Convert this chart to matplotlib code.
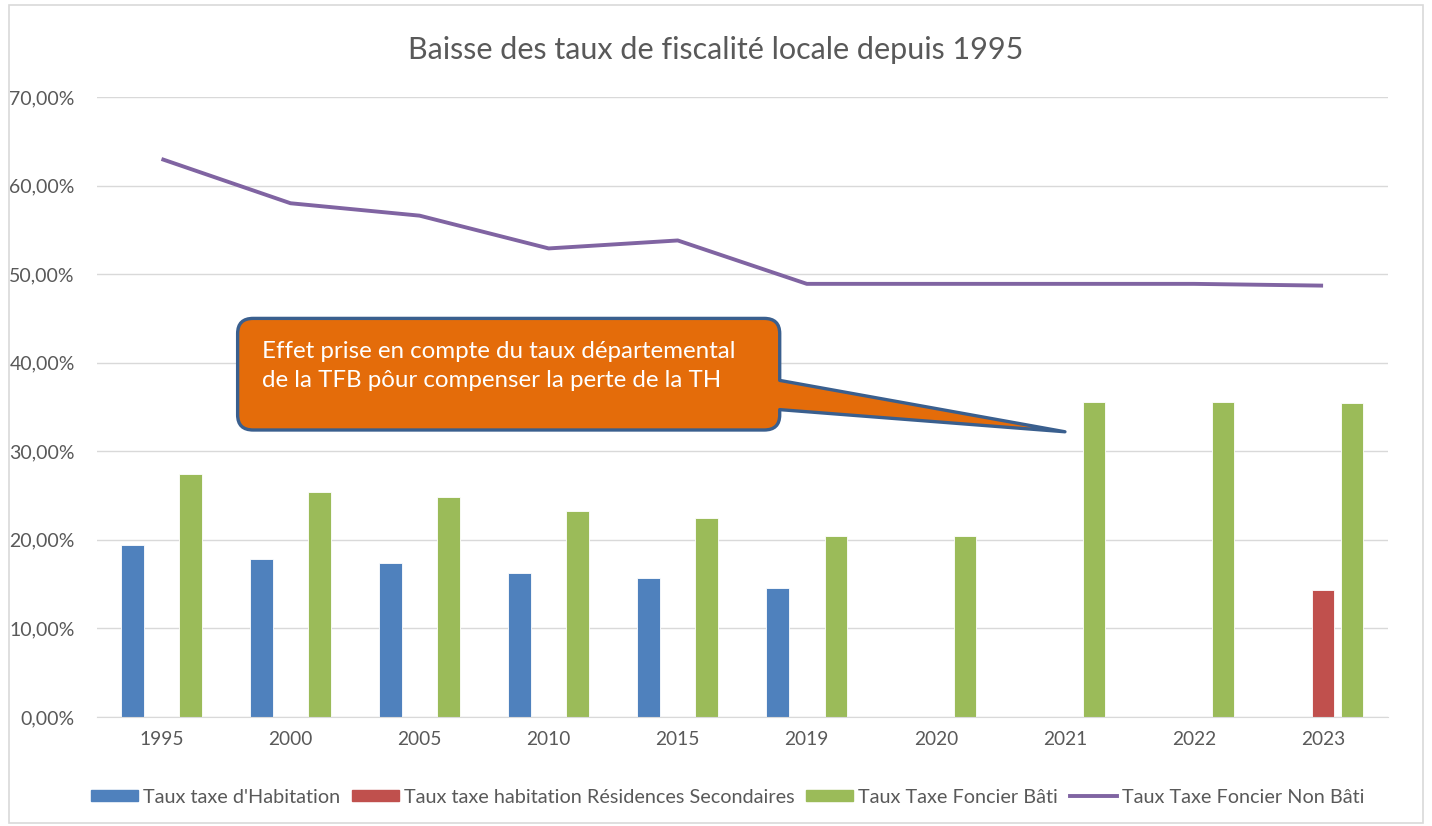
import matplotlib.pyplot as plt
import numpy as np
from matplotlib.path import Path
from matplotlib.patches import PathPatch, Rectangle
from matplotlib.lines import Line2D
from matplotlib.ticker import FuncFormatter

plt.rcParams['font.family'] = ['Lato', 'DejaVu Sans']

# Data (percent)
years = ['1995', '2000', '2005', '2010', '2015', '2019', '2020', '2021', '2022', '2023']
th = [19.4, 17.8, 17.4, 16.3, 15.7, 14.6, np.nan, np.nan, np.nan, np.nan]
th_rs = [np.nan, np.nan, np.nan, np.nan, np.nan, np.nan, np.nan, np.nan, np.nan, 14.3]
tfb = [27.4, 25.4, 24.8, 23.2, 22.5, 20.4, 20.4, 35.6, 35.6, 35.4]
tfnb = [63.0, 58.0, 56.6, 52.9, 53.8, 48.9, 48.9, 48.9, 48.9, 48.7]

labels = ["Taux taxe d'Habitation", "Taux taxe habitation Résidences Secondaires",
          "Taux Taxe Foncier Bâti", "Taux Taxe Foncier Non Bâti"]
colors = ['#4F81BD', '#C0504D', '#9BBB59', '#8064A2']
grey = '#595959'

fig = plt.figure(figsize=(14.32, 8.26), dpi=100)
ax = fig.add_axes([0.0677, 0.132, 0.9013, 0.7506])

x = np.arange(len(years))
w = 0.175
off = 0.225
ax.bar(x - off, th, w, color=colors[0], edgecolor='white', linewidth=0.6, zorder=2)
ax.bar(x, th_rs, w, color=colors[1], edgecolor='white', linewidth=0.6, zorder=2)
ax.bar(x + off, tfb, w, color=colors[2], edgecolor='white', linewidth=0.6, zorder=2)
ax.plot(x, tfnb, color=colors[3], linewidth=2.8, solid_capstyle='butt', zorder=3)

ax.set_xlim(-0.5, len(years) - 0.5)
ax.set_ylim(0, 70)
ax.set_yticks(np.arange(0, 71, 10))
ax.yaxis.set_major_formatter(FuncFormatter(lambda v, p: f"{v:.2f}%".replace('.', ',')))
ax.set_xticks(x)
ax.set_xticklabels(years)
ax.tick_params(length=0, colors=grey)
ax.tick_params(axis='y', pad=16, labelsize=14)
ax.tick_params(axis='x', pad=10, labelsize=13.8)
ax.grid(axis='y', color='#D9D9D9', linewidth=1, zorder=0)
ax.set_axisbelow(True)
for s in ['top', 'right', 'left']:
    ax.spines[s].set_visible(False)
ax.spines['bottom'].set_color('#D9D9D9')

# Callout (rounded box with a tail pointing at 2021)
x0, x1, y0, y1 = 0.59, 4.79, 32.4, 45.0
rx, ry = 0.12, 1.7
ya, yb = 38.0, 34.7
tip = (7.0, 32.2)
verts = [
    (x0 + rx, y1), (x1 - rx, y1), (x1, y1), (x1, y1 - ry),
    (x1, ya), tip, (x1, yb),
    (x1, y0 + ry), (x1, y0), (x1 - rx, y0),
    (x0 + rx, y0), (x0, y0), (x0, y0 + ry),
    (x0, y1 - ry), (x0, y1), (x0 + rx, y1),
    (x0 + rx, y1),
]
codes = [
    Path.MOVETO, Path.LINETO, Path.CURVE3, Path.CURVE3,
    Path.LINETO, Path.LINETO, Path.LINETO,
    Path.LINETO, Path.CURVE3, Path.CURVE3,
    Path.LINETO, Path.CURVE3, Path.CURVE3,
    Path.LINETO, Path.CURVE3, Path.CURVE3,
    Path.CLOSEPOLY,
]
ax.add_patch(PathPatch(Path(verts, codes), facecolor='#E46C0A', edgecolor='#3A5F8E',
                       linewidth=2.4, joinstyle='round', zorder=5))
ax.text(0.775, 39.6, "Effet prise en compte du taux départemental\nde la TFB pôur compenser la perte de la TH",
        color='white', fontsize=17.4, ha='left', va='center', linespacing=1.5, zorder=6)

fig.text(0.5, 0.939, "Baisse des taux de fiscalité locale depuis 1995",
         ha='center', va='center', fontsize=22, color=grey)

handles = [Rectangle((0, 0), 1, 1, color=colors[0]),
           Rectangle((0, 0), 1, 1, color=colors[1]),
           Rectangle((0, 0), 1, 1, color=colors[2]),
           Line2D([], [], color=colors[3], linewidth=2.8)]
fig.legend(handles, labels, loc='center', bbox_to_anchor=(0.508, 0.035), ncol=4,
           frameon=False, fontsize=14.3, labelcolor=grey, handlelength=2.36,
           handleheight=0.45, handletextpad=0.25, columnspacing=0.6)

fig.add_artist(Rectangle((0.006, 0.004), 0.988, 0.99, transform=fig.transFigure,
                         fill=False, edgecolor='#D9D9D9', linewidth=1.2))

plt.savefig('out.png', dpi=100)
